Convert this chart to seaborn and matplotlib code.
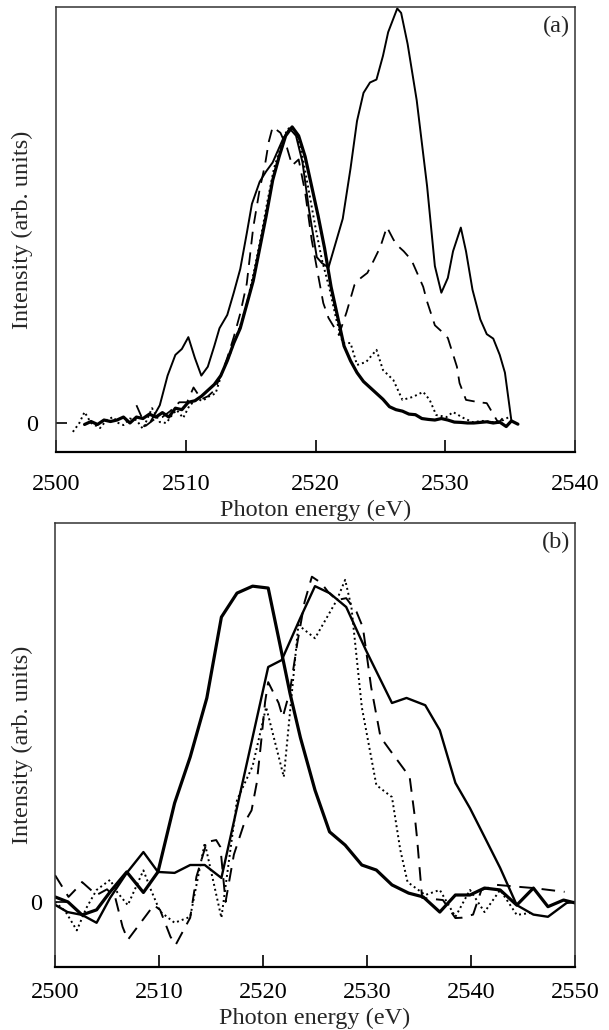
import numpy as np
import pandas as pd
import matplotlib
matplotlib.use("Agg")
import matplotlib.pyplot as plt
import seaborn as sns

# ---------------- data: panel (a) ----------------
a_thick_E = [2502.2, 2502.7, 2503.2, 2503.7, 2504.2, 2504.7, 2505.2, 2505.7, 2506.2, 2506.7,
             2507.2, 2507.7, 2508.2, 2508.7, 2509.2, 2509.7, 2510.2, 2510.7, 2511.2, 2511.7,
             2512.2, 2512.7, 2513.2, 2513.7, 2514.2, 2514.7, 2515.2, 2515.7, 2516.2, 2516.7,
             2517.2, 2517.7, 2518.2, 2518.7, 2519.2, 2519.7, 2520.2, 2520.7, 2521.2, 2521.7,
             2522.2, 2522.7, 2523.2, 2523.7, 2524.2, 2524.7, 2525.2, 2525.7, 2526.2, 2526.7,
             2527.2, 2527.7, 2528.2, 2528.7, 2529.2, 2529.7, 2530.2, 2530.7, 2531.2, 2531.7,
             2532.2, 2532.7, 2533.2, 2533.7, 2534.2, 2534.7, 2535.1, 2535.6]
a_thick_I = [-0.005, 0.005, -0.005, 0.01, 0.005, 0.01, 0.02, 0.0, 0.02, 0.015,
             0.03, 0.02, 0.035, 0.02, 0.05, 0.045, 0.07, 0.075, 0.09, 0.11,
             0.13, 0.16, 0.21, 0.27, 0.32, 0.40, 0.48, 0.59, 0.70, 0.82,
             0.90, 0.97, 1.0, 0.97, 0.90, 0.80, 0.70, 0.59, 0.46, 0.36,
             0.26, 0.21, 0.17, 0.14, 0.12, 0.10, 0.08, 0.055, 0.045, 0.04,
             0.03, 0.028, 0.015, 0.012, 0.01, 0.015, 0.01, 0.003, 0.002, 0.0,
             0.0, 0.002, 0.004, 0.0, 0.003, -0.012, 0.007, -0.004]

a_thin_E = [2507.3, 2508.0, 2508.6, 2509.2, 2509.7, 2510.2, 2510.7, 2511.2, 2511.7, 2512.2,
            2512.6, 2513.2, 2513.7, 2514.2, 2514.7, 2515.1, 2515.7, 2516.2, 2516.7, 2517.1,
            2517.5, 2518.0, 2518.5, 2519.0, 2519.5, 2520.1, 2520.5, 2521.0, 2521.5, 2522.1,
            2522.7, 2523.2, 2523.7, 2524.2, 2524.7, 2525.2, 2525.6, 2526.3, 2526.6, 2527.1,
            2527.8, 2528.6, 2529.2, 2529.7, 2530.2, 2530.6, 2531.2, 2531.6, 2532.1, 2532.7,
            2533.2, 2533.7, 2534.2, 2534.6, 2535.1]
a_thin_I = [0.005, 0.06, 0.16, 0.23, 0.25, 0.29, 0.22, 0.16, 0.19, 0.26,
            0.32, 0.365, 0.44, 0.52, 0.64, 0.74, 0.815, 0.85, 0.88, 0.92,
            0.96, 0.995, 0.97, 0.88, 0.72, 0.56, 0.54, 0.525, 0.60, 0.69,
            0.86, 1.02, 1.115, 1.15, 1.16, 1.24, 1.32, 1.40, 1.385, 1.28,
            1.09, 0.80, 0.53, 0.44, 0.49, 0.58, 0.66, 0.58, 0.45, 0.35,
            0.30, 0.285, 0.23, 0.17, 0.007]

a_dash_E = [2506.2, 2506.9, 2507.5, 2508.2, 2508.8, 2509.5, 2510.1, 2510.6, 2511.2, 2511.7,
            2512.2, 2512.7, 2513.2, 2513.7, 2514.2, 2514.7, 2515.2, 2515.7, 2516.1, 2516.4,
            2516.7, 2517.3, 2517.8, 2518.2, 2518.7, 2519.2, 2519.7, 2520.2, 2520.6, 2521.0,
            2521.8, 2522.4, 2523.0, 2523.5, 2524.0, 2524.5, 2525.0, 2525.5, 2526.0, 2526.3,
            2526.8, 2527.4, 2527.9, 2528.3, 2528.6, 2529.2, 2529.7, 2530.2, 2530.9, 2531.1,
            2531.6, 2532.1, 2532.6, 2533.2, 2534.1, 2534.7]
a_dash_I = [0.06, -0.01, 0.01, 0.02, 0.04, 0.07, 0.07, 0.12, 0.08, 0.09,
            0.11, 0.16, 0.22, 0.29, 0.37, 0.47, 0.66, 0.79, 0.87, 0.95,
            1.0, 0.98, 0.93, 0.87, 0.89, 0.78, 0.62, 0.50, 0.405, 0.355,
            0.297, 0.375, 0.466, 0.49, 0.507, 0.55, 0.595, 0.662, 0.62, 0.60,
            0.58, 0.55, 0.50, 0.46, 0.41, 0.33, 0.31, 0.287, 0.19, 0.135,
            0.078, 0.074, 0.07, 0.067, 0.0, 0.03]

a_dot_E = [2501.3, 2501.8, 2502.2, 2502.7, 2503.4, 2503.9, 2504.4, 2504.8, 2505.2, 2505.7,
           2506.2, 2506.7, 2507.1, 2507.4, 2508.0, 2508.5, 2509.0, 2509.3, 2509.8, 2510.3,
           2510.9, 2511.3, 2511.8, 2512.3, 2512.8, 2513.3, 2513.8, 2514.3, 2514.8, 2515.3,
           2515.8, 2516.3, 2516.8, 2517.3, 2517.8, 2518.1, 2518.5, 2519.0, 2519.5, 2520.0,
           2520.5, 2521.1, 2521.6, 2522.1, 2522.7, 2523.2, 2523.9, 2524.7, 2525.2, 2526.0,
           2526.7, 2527.5, 2528.3, 2528.8, 2529.3, 2530.1, 2530.6, 2531.4, 2532.1, 2532.9,
           2533.7, 2534.5, 2534.9]
a_dot_I = [-0.03, 0.0, 0.037, 0.0, -0.017, 0.01, 0.02, 0.0, -0.007, 0.015,
           0.01, -0.02, 0.02, 0.05, 0.003, 0.0, 0.03, 0.044, 0.017, 0.06,
           0.08, 0.075, 0.09, 0.10, 0.17, 0.22, 0.28, 0.34, 0.42, 0.52,
           0.63, 0.75, 0.86, 0.93, 0.99, 1.0, 0.98, 0.90, 0.78, 0.66,
           0.55, 0.45, 0.35, 0.27, 0.27, 0.196, 0.206, 0.247, 0.179, 0.145,
           0.078, 0.088, 0.105, 0.078, 0.027, 0.02, 0.037, 0.017, 0.003, 0.007,
           0.003, 0.01, 0.02]

# ---------------- data: panel (b) ----------------
b_thick_E = [2500.0, 2501.25, 2502.6, 2504.0, 2505.3, 2506.9, 2508.5, 2509.9, 2511.5, 2513.0,
             2514.6, 2516.0, 2517.5, 2519.0, 2520.5, 2521.6, 2522.6, 2523.6, 2525.0, 2526.4,
             2527.9, 2529.5, 2530.9, 2532.4, 2534.0, 2535.4, 2537.0, 2538.5, 2539.9, 2541.3,
             2542.8, 2544.4, 2546.0, 2547.4, 2548.9, 2550.0]
b_thick_I = [0.016, 0.0, -0.041, -0.025, 0.032, 0.095, 0.03, 0.095, 0.313, 0.459,
             0.646, 0.902, 0.978, 1.0, 0.994, 0.82, 0.66, 0.52, 0.354, 0.222,
             0.18, 0.117, 0.101, 0.054, 0.028, 0.016, -0.032, 0.022, 0.022, 0.044,
             0.038, -0.01, 0.044, -0.015, 0.006, -0.003]

b_thin_E = [2500.0, 2501.2, 2502.6, 2504.0, 2505.3, 2506.9, 2508.5, 2509.9, 2511.5, 2513.0,
            2514.4, 2516.0, 2520.5, 2521.8, 2523.6, 2525.0, 2526.4, 2528.0, 2529.9, 2532.4,
            2533.8, 2535.6, 2537.0, 2538.5, 2539.9, 2541.3, 2542.8, 2544.4, 2546.0, 2547.4,
            2549.2, 2550.0]
b_thin_I = [-0.009, -0.032, -0.041, -0.066, 0.013, 0.092, 0.158, 0.095, 0.092, 0.117,
            0.117, 0.076, 0.744, 0.766, 0.90, 1.0, 0.978, 0.934, 0.797, 0.63,
            0.646, 0.623, 0.544, 0.377, 0.297, 0.206, 0.108, -0.01, -0.04, -0.047,
            -0.003, 0.0]

b_dash_E = [2500.0, 2501.3, 2502.0, 2502.6, 2504.0, 2505.0, 2505.8, 2506.5, 2507.0, 2508.8,
            2509.5, 2510.1, 2511.1, 2511.6, 2513.0, 2513.6, 2514.6, 2515.5, 2515.9, 2516.4,
            2517.2, 2518.2, 2518.9, 2519.4, 2519.8, 2520.2, 2520.5, 2521.5, 2521.9, 2522.6,
            2523.3, 2524.0, 2524.7, 2525.6, 2526.3, 2527.1, 2528.0, 2529.0, 2529.6, 2529.9,
            2530.4, 2531.3, 2532.2, 2534.1, 2534.6, 2534.8, 2535.3, 2537.3, 2538.5, 2539.1,
            2540.2, 2541.0, 2542.5, 2544.9, 2546.0, 2549.0]
b_dash_I = [0.085, 0.016, 0.04, 0.063, 0.022, 0.04, 0.013, -0.079, -0.12, -0.041,
            -0.01, -0.025, -0.11, -0.136, -0.05, 0.08, 0.19, 0.196, 0.174, 0.0,
            0.15, 0.25, 0.29, 0.377, 0.5, 0.633, 0.696, 0.63, 0.585, 0.67,
            0.82, 0.95, 1.03, 1.01, 0.98, 0.956, 0.962, 0.918, 0.87, 0.80,
            0.68, 0.522, 0.481, 0.396, 0.269, 0.206, 0.013, 0.006, -0.051, -0.05,
            -0.04, 0.038, 0.054, 0.047, 0.044, 0.032]

b_dot_E = [2500.0, 2501.0, 2502.1, 2503.0, 2504.0, 2505.3, 2506.0, 2507.0, 2508.5, 2509.2,
           2510.1, 2511.5, 2513.0, 2514.4, 2516.0, 2517.5, 2519.0, 2520.3, 2522.0, 2523.4,
           2525.0, 2527.1, 2527.9, 2528.5, 2529.5, 2530.9, 2532.4, 2533.2, 2533.9, 2535.6,
           2537.0, 2538.5, 2539.9, 2541.3, 2542.8, 2544.4, 2545.7]
b_dot_I = [0.0, -0.03, -0.09, -0.02, 0.038, 0.07, 0.03, -0.01, 0.10, 0.04,
           -0.03, -0.066, -0.047, 0.187, -0.05, 0.323, 0.43, 0.617, 0.396, 0.877,
           0.835, 0.956, 1.02, 0.934, 0.617, 0.37, 0.332, 0.165, 0.063, 0.022,
           0.038, -0.047, 0.038, -0.032, 0.038, -0.041, -0.035]

a_xticks = [2500, 2510, 2520, 2530, 2540]
b_xticks = [2500, 2510, 2520, 2530, 2540, 2550]
x_label = "Photon energy (eV)"
y_label = "Intensity (arb. units)"

# ---------------- style ----------------
sns.set_style("ticks")
plt.rcParams['font.family'] = ['Liberation Serif', 'DejaVu Serif']
FS = 17.5

fig = plt.figure(figsize=(6.09, 10.30), dpi=100)
W, H = 609, 1030
ax1 = fig.add_axes([56 / W, 1 - 452 / H, (575 - 56) / W, (452 - 7) / H])
ax2 = fig.add_axes([55 / W, 1 - 967 / H, (575 - 55) / W, (967 - 523) / H])

dash_style = (0, (7, 4.5))
dot_style = (0, (1, 1.6))


def draw(ax, E, I, lw, ls):
    df = pd.DataFrame({"E": E, "I": I})
    sns.lineplot(data=df, x="E", y="I", ax=ax, color="black", linewidth=lw,
                 linestyle=ls, sort=False, estimator=None, legend=False)


draw(ax1, a_dot_E, a_dot_I, 1.4, dot_style)
draw(ax1, a_dash_E, a_dash_I, 1.3, dash_style)
draw(ax1, a_thin_E, a_thin_I, 1.4, "-")
draw(ax1, a_thick_E, a_thick_I, 2.3, "-")

draw(ax2, b_dot_E, b_dot_I, 1.4, dot_style)
draw(ax2, b_dash_E, b_dash_I, 1.4, dash_style)
draw(ax2, b_thin_E, b_thin_I, 1.7, "-")
draw(ax2, b_thick_E, b_thick_I, 2.3, "-")

ax1.set_xlim(2500, 2540)
ax1.set_ylim(-0.098, 1.405)
ax2.set_xlim(2500, 2550)
ax2.set_ylim(-0.206, 1.2)

for ax, ticks, xpad, ypad, xlab_y, ylab_x, tag in [
        (ax1, a_xticks, 16, 13, -0.108, -0.044, "(a)"),
        (ax2, b_xticks, 11, 9, -0.093, -0.042, "(b)")]:
    ax.set_xticks(ticks)
    ax.set_xticklabels([str(t) for t in ticks])
    ax.set_yticks([0])
    ax.set_yticklabels(["0"])
    ax.tick_params(axis="x", direction="in", length=9, width=1.2, pad=xpad,
                   labelsize=FS, colors="black")
    ax.tick_params(axis="y", direction="in", length=8, width=1.2, pad=ypad,
                   labelsize=FS, colors="black")
    for s in ax.spines.values():
        s.set_visible(True)
        s.set_color("#333333")
        s.set_linewidth(1.1)
    ax.spines["bottom"].set_linewidth(1.6)
    ax.spines["bottom"].set_color("black")
    ax.set_xlabel(x_label, fontsize=FS)
    ax.set_ylabel(y_label, fontsize=FS)
    ax.xaxis.set_label_coords(0.5, xlab_y)
    ax.yaxis.set_label_coords(ylab_x, 0.5)
    ax.text(0.99, 0.98, tag, transform=ax.transAxes, ha="right", va="top",
            fontsize=FS)

fig.savefig("out.png", dpi=100)
